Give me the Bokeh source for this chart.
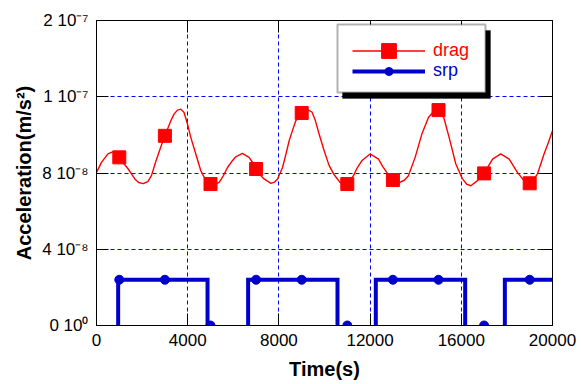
from bokeh.plotting import figure
from bokeh.models import (FixedTicker, LinearAxis, Legend, LegendItem, BoxAnnotation,
                          Range1d, ColumnDataSource)
from bokeh.embed import file_html
from bokeh.resources import INLINE

# ---------------- data ----------------
drag_t = [0, 220, 500, 730, 900, 1000, 1200, 1390, 1680, 1850, 2050, 2250, 2410, 2600,
          2800, 3000, 3260, 3400, 3550, 3700, 3840, 3990, 4135, 4355, 4575, 4800, 5000,
          5200, 5380, 5560, 5745, 5930, 6110, 6400, 6690, 6850, 7000, 7180, 7350, 7650,
          7800, 7940, 8160, 8300, 8450, 8600, 8740, 9000, 9250, 9450, 9600, 9750, 9985,
          10200, 10400, 10680, 10850, 11000, 11270, 11450, 11635, 12000, 12370, 12550,
          12730, 13000, 13300, 13500, 13680, 13975, 14270, 14560, 14800, 14950, 15100,
          15250, 15465, 15760, 16050, 16250, 16420, 16710, 17000, 17370, 17730, 18100,
          18460, 18750, 19000, 19150, 19340, 19630, 19820, 20000]
drag_v = [8.03e-8, 8.56e-8, 9.0e-8, 9.12e-8, 9.0e-8, 8.82e-8, 8.5e-8, 8.21e-8, 7.69e-8,
          7.5e-8, 7.44e-8, 7.55e-8, 7.86e-8, 8.6e-8, 9.3e-8, 9.95e-8, 1.074e-7, 1.109e-7,
          1.13e-7, 1.135e-7, 1.117e-7, 1.057e-7, 9.87e-8, 9.0e-8, 8.12e-8, 7.6e-8, 7.42e-8,
          7.42e-8, 7.51e-8, 7.85e-8, 8.29e-8, 8.6e-8, 8.85e-8, 9.03e-8, 8.82e-8, 8.55e-8,
          8.21e-8, 7.9e-8, 7.69e-8, 7.46e-8, 7.52e-8, 7.69e-8, 8.29e-8, 8.95e-8, 9.69e-8,
          1.025e-7, 1.074e-7, 1.115e-7, 1.133e-7, 1.12e-7, 1.075e-7, 1.01e-7, 9.17e-8,
          8.4e-8, 7.95e-8, 7.51e-8, 7.4e-8, 7.42e-8, 7.86e-8, 8.3e-8, 8.64e-8, 9.0e-8,
          8.73e-8, 8.35e-8, 8.03e-8, 7.63e-8, 7.51e-8, 7.62e-8, 7.86e-8, 8.82e-8, 1.004e-7,
          1.091e-7, 1.125e-7, 1.133e-7, 1.125e-7, 1.083e-7, 9.87e-8, 8.47e-8, 7.69e-8,
          7.4e-8, 7.33e-8, 7.6e-8, 7.98e-8, 8.73e-8, 9.0e-8, 8.73e-8, 8.03e-8, 7.6e-8,
          7.46e-8, 7.6e-8, 7.95e-8, 9.0e-8, 9.6e-8, 1.022e-7]

marker_t = [1000, 3000, 5000, 7000, 9000, 11000, 13000, 15000, 17000, 19000]
drag_marker_v = [8.82e-8, 9.95e-8, 7.42e-8, 8.21e-8, 1.115e-7, 7.42e-8, 7.63e-8,
                 1.13e-7, 7.98e-8, 7.46e-8]
srp_marker_v = [2.4e-8, 2.4e-8, 0.0, 2.4e-8, 2.4e-8, 0.0, 2.4e-8, 2.4e-8, 0.0, 2.4e-8]

srp_level = 2.4e-8
srp_on = [950, 6650, 12250, 17910]      # sunlight begins
srp_off = [4870, 10570, 16170, 20000]   # eclipse begins (last: end of span)

x_ticks = [0, 4000, 8000, 12000, 16000, 20000]
y_ticks = [0.0, 4e-8, 8e-8, 1.2e-7, 1.6e-7]
y_tick_labels = ["0 10\u2070", "4 10\u207b\u2078", "8 10\u207b\u2078",
                 "1 10\u207b\u2077", "2 10\u207b\u2077"]

# step line for srp built from the switch times
srp_line_t, srp_line_v = [], []
for i, (a, b) in enumerate(zip(srp_on, srp_off)):
    if i > 0:
        srp_line_t.append(float("nan")); srp_line_v.append(float("nan"))
    srp_line_t += [a, a, b]
    srp_line_v += [0.0, srp_level, srp_level]
    if i < len(srp_on) - 1:
        srp_line_t.append(b); srp_line_v.append(0.0)

RED = "#ff0000"
BLUE = "#0000cc"
FONT = "Liberation Sans"

p = figure(width=581, height=384, output_backend="svg", toolbar_location=None,
           x_range=Range1d(0, 20000), y_range=Range1d(0, 1.6e-7),
           min_border_left=96, min_border_right=29, min_border_top=20, min_border_bottom=59)
p.background_fill_color = "white"
p.border_fill_color = "white"
p.outline_line_color = "black"
p.outline_line_width = 1

# grid
for g, t in ((p.xgrid, x_ticks), (p.ygrid, y_ticks)):
    g.ticker = FixedTicker(ticks=t)
    g.grid_line_color = "#0000ff"
    g.grid_line_dash = "4 3"
    g.grid_line_width = 1

# axes
xa = p.xaxis[0]
xa.ticker = FixedTicker(ticks=x_ticks)
ya = p.yaxis[0]
ya.ticker = FixedTicker(ticks=y_ticks)
ya.major_label_overrides = {v: s for v, s in zip(y_ticks, y_tick_labels)}
for ax in (xa, ya):
    ax.major_tick_in = 12
    ax.major_tick_out = 0
    ax.minor_tick_line_color = None
    ax.major_tick_line_color = "black"
    ax.axis_line_color = "black"
    ax.major_label_text_font = FONT
    ax.major_label_text_font_size = "17px"
    ax.major_label_text_color = "black"
    ax.major_label_standoff = 8
    ax.axis_label_text_font = FONT
    ax.axis_label_text_font_size = "20px"
    ax.axis_label_text_font_style = "bold"
    ax.axis_label_text_color = "black"
xa.axis_label = "Time(s)"
xa.axis_label_standoff = 9
ya.axis_label = "Acceleration(m/s\u00b2)"
ya.axis_label_standoff = 4

# tick marks only on the right and top edges
for side, tk in (("right", y_ticks), ("above", x_ticks)):
    ax = LinearAxis(ticker=FixedTicker(ticks=tk), major_tick_in=12, major_tick_out=0,
                    minor_tick_line_color=None, major_label_text_color=None,
                    major_label_overrides={v: "" for v in tk},
                    major_label_standoff=0, axis_line_color=None,
                    major_tick_line_color="black")
    p.add_layout(ax, side)

# glyphs
srp_src = ColumnDataSource(dict(t=srp_line_t, v=srp_line_v))
srp_line = p.line("t", "v", source=srp_src, line_color=BLUE, line_width=4,
                  line_join="miter")
srp_pts = p.scatter(marker_t, srp_marker_v, marker="circle", size=9,
                    fill_color=BLUE, line_color=BLUE)
drag_line = p.line(drag_t, drag_v, line_color=RED, line_width=1.4)
drag_pts = p.scatter(marker_t, drag_marker_v, marker="square", size=13,
                     fill_color=RED, line_color=RED)

# legend box with shadow (layout, in data units of the frame)
shadow = BoxAnnotation(left=10790, right=17280, top=1.579e-7 - 3.1e-9,
                       bottom=1.222e-7 - 3.1e-9, fill_color="black", fill_alpha=1,
                       line_color="black")
box = BoxAnnotation(left=10570, right=17060, top=1.579e-7, bottom=1.222e-7,
                    fill_color="white", fill_alpha=1, line_color="black", line_width=2)
p.add_layout(shadow)
p.add_layout(box)

leg1 = Legend(items=[LegendItem(label="drag", renderers=[drag_line, drag_pts])],
              location=(256, 256.5), glyph_width=73, glyph_height=37, padding=0, margin=0,
              spacing=0, label_standoff=8, border_line_color=None,
              background_fill_alpha=0, label_text_font=FONT, label_text_font_size="18px",
              label_text_color=RED)
leg2 = Legend(items=[LegendItem(label="srp", renderers=[srp_line, srp_pts])],
              location=(256, 244), glyph_width=73, glyph_height=20, padding=0, margin=0,
              spacing=0, label_standoff=8, border_line_color=None,
              background_fill_alpha=0, label_text_font=FONT, label_text_font_size="18px",
              label_text_color=BLUE)
p.add_layout(leg1)
p.add_layout(leg2)

open("out.html", "w").write(file_html(p, INLINE))
